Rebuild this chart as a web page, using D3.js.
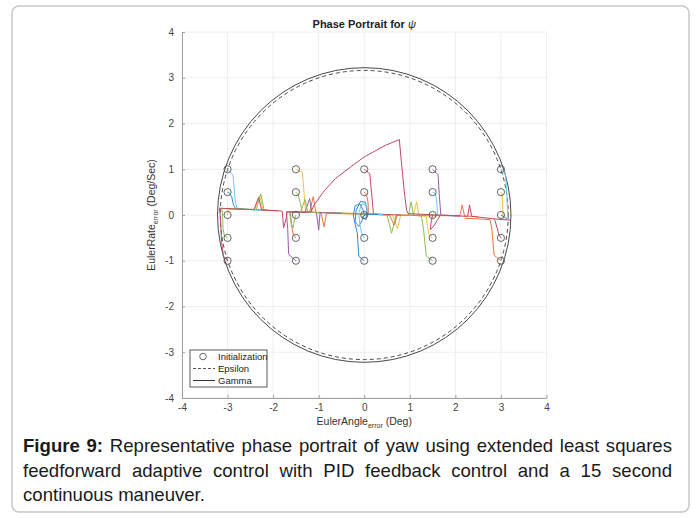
<!DOCTYPE html>
<html lang="en">
<head>
    <meta charset="UTF-8">
    <title>Phase Portrait for psi</title>
    <style>
        body { margin: 0; background: #fff; }
        svg { display: block; }
    </style>
</head>
<body>
    <svg id="svg" width="696" height="518"></svg>

    <script src="https://d3js.org/d3.v7.min.js"></script>
    <script>
        // data
        const xTicks = [-4, -3, -2, -1, 0, 1, 2, 3, 4]
        const yTicks = [-4, -3, -2, -1, 0, 1, 2, 3, 4]
        const initX = [-3, -1.5, 0, 1.5, 3]
        const initY = [-1, -0.5, 0, 0.5, 1]
        const gammaR = 3.22
        const epsilonR = 3.16

        const trajColors = [
            'lightblue', 'blue', 'yellow', 'green',
            'yellow', 'green', 'orange', 'purple', 'green',
            'red', 'orange', 'blue', 'lightblue', 'blue',
            'purple', 'lightblue', 'green', 'yellow', 'red',
            'lightblue', 'yellow', 'blue', 'red', 'orange',
            'red'
        ]
        const trajPoints = [
            [[-3,1],[-2.93,0.93],[-2.88,0.87],[-2.86,0.65],[-2.83,0.3],[-2.79,0.15],[-2.6,0.12],[-2.3,0.11],[-2.15,0.11]],
            [[-3,0.5],[-2.95,0.47],[-2.91,0.4],[-2.87,0.22],[-2.82,0.14],[-2.5,0.12],[-2.3,0.11],[-2.1,0.1]],
            [[-3,0],[-2.99,0.07],[-2.96,0.13],[-2.6,0.12],[-2.4,0.12],[-2.3,0.42],[-2.22,0.11],[-1.9,0.09]],
            [[-3,-0.5],[-3.07,-0.45],[-3.1,-0.3],[-3.11,0.05],[-3.13,0.14],[-2.8,0.13],[-2.37,0.12],[-2.27,0.46],[-2.2,0.11],[-1.9,0.09]],
            [[-1.5,1],[-1.41,0.96],[-1.36,0.93],[-1.33,0.6],[-1.3,0.2],[-1.28,0.07],[-1.1,0.06],[0.5,0.01],[0.62,0],[0.73,-0.3],[0.8,0],[1.08,-0.01],[1.15,0.29],[1.2,-0.02],[1.35,-0.03]],
            [[-1.5,0.5],[-1.45,0.44],[-1.4,0.25],[-1.36,0.07],[0.5,0.01],[0.6,-0.4],[0.7,0],[0.97,-0.01],[1.03,0.29],[1.08,-0.01],[1.25,-0.02]],
            [[-1.5,-0.5],[-1.56,-0.42],[-1.6,-0.2],[-1.62,0.06],[-1.2,0.06],[-1.12,0.4],[-1.06,0.05],[-0.95,0.05],[-0.88,-0.26],[-0.83,0.04],[0.55,0],[0.66,-0.22],[0.72,0],[2.1,-0.02],[2.15,0.22],[2.2,-0.02],[2.5,-0.04]],
            [[-1.5,-1],[-1.62,-0.9],[-1.66,-0.85],[-1.68,-0.3],[-1.71,0.07],[-1.4,0.06],[-1.3,0.06],[-1.2,0.36],[-1.15,0.06],[-1.05,0.05],[-1,-0.33],[-0.97,0.05],[-0.5,0.04]],
            [[-1.5,0],[-1.53,-0.1],[-1.56,-0.28],[-1.6,-0.2],[-1.64,0.06],[-1.4,0.06],[-1.3,0.34],[-1.24,0.06],[-1,0.05]],
            [[0,1],[0.09,0.93],[0.12,0.9],[0.16,0.5],[0.2,0.05],[0.22,0.02],[0.8,0]],
            [[0,0.5],[0.05,0.45],[0.08,0.3],[0.09,0.1],[0.1,0.02],[0.5,0]],
            [[0,0],[-0.05,-0.12],[-0.12,-0.25],[-0.2,-0.15],[-0.18,0.1],[-0.08,0.3],[0.02,0.28],[0.06,0.1],[0.04,-0.1],[-0.05,-0.05],[0.05,0.02],[0.3,0.01]],
            [[0,-0.5],[-0.05,-0.42],[-0.1,-0.2],[-0.12,0.05],[-0.05,0.25],[0.05,0.22],[0.08,0.05],[0.1,0.02],[0.4,0.01]],
            [[0,-1],[-0.12,-0.9],[-0.14,-0.6],[-0.15,-0.4],[-0.2,-0.2],[-0.24,0],[-0.2,0.2],[-0.1,0.25],[-0.02,0.1],[0,0.02],[0.3,0.01]],
            [[1.5,1],[1.58,0.92],[1.62,0.88],[1.65,0.4],[1.68,0],[2.1,-0.02]],
            [[1.5,0.5],[1.56,0.47],[1.59,0.3],[1.61,0],[2,-0.02]],
            [[1.5,-1],[1.4,-0.93],[1.36,-0.88],[1.3,-0.3],[1.25,-0.01]],
            [[1.5,-0.5],[1.42,-0.43],[1.38,-0.2],[1.36,-0.02],[1.6,-0.02]],
            [[1.5,0],[1.47,-0.15],[1.45,-0.32],[1.52,-0.25],[1.6,-0.12],[1.66,-0.02]],
            [[3,1],[3.08,0.95],[3.1,0.9],[3.13,0.4],[3.15,0],[3.16,-0.08]],
            [[3,0.5],[3.03,0.46],[3.04,0.1],[3.05,-0.08]],
            [[3,0],[3.08,-0.05],[3.14,-0.09]],
            [[3,-0.5],[2.95,-0.42],[2.92,-0.3],[2.87,-0.12],[2.85,-0.09]],
            [[3,-1],[2.9,-0.92],[2.85,-0.88],[2.8,-0.3],[2.76,-0.1],[2.2,-0.07]],
            [[-3,-1],[-3.09,-0.9],[-3.13,-0.6],[-3.16,0],[-3.18,0.15],[-2.8,0.13],[-2.42,0.12],[-2.32,0.38],[-2.25,0.11],[-1.85,0.09],[-1.8,0.08],[-1.77,-0.28],[-1.72,-0.1],[-1.69,0.07],[-1.3,0.06],[-1.17,0.07],[-1.1,0.22],[-0.9,0.5],[-0.63,0.8],[-0.3,1.05],[0,1.27],[0.46,1.52],[0.77,1.65],[0.82,1.1],[0.88,0.5],[0.93,0.1],[0.96,0.03],[1.6,0],[2.27,-0.03],[2.31,0.22],[2.36,-0.03],[3,-0.1],[3.2,-0.11]]
        ]

        const palette = {
            blue: '#3588cb', orange: '#e5783f', yellow: '#f1c046', purple: '#9b5aab',
            green: '#8cbd52', lightblue: '#6bcaf0', red: '#bf4a66'
        }

        const captionLines = [
            'Representative phase portrait of yaw using extended least squares',
            'feedforward adaptive control with PID feedback control and a 15 second',
            'continuous maneuver.'
        ]

        // scales
        const xScale = d3.scaleLinear().domain([-4, 4]).range([182, 546.5])
        const yScale = d3.scaleLinear().domain([-4, 4]).range([398, 32])

        const svg = d3.select('#svg')
        const font = 'Liberation Sans, Arial, Helvetica, sans-serif'

        // frame
        svg.append('rect')
            .attr('x', 12).attr('y', 6)
            .attr('width', 677).attr('height', 506)
            .attr('rx', 7)
            .attr('fill', 'none')
            .attr('stroke', '#c8c8c8')
            .attr('stroke-width', 1.5)

        // grid
        const grid = svg.append('g')
        grid.selectAll('.gx').data(xTicks).enter().append('line')
            .attr('x1', d => xScale(d)).attr('x2', d => xScale(d))
            .attr('y1', yScale(-4)).attr('y2', yScale(4))
            .attr('stroke', '#eeeeee')
        grid.selectAll('.gy').data(yTicks).enter().append('line')
            .attr('y1', d => yScale(d)).attr('y2', d => yScale(d))
            .attr('x1', xScale(-4)).attr('x2', xScale(4))
            .attr('stroke', '#eeeeee')

        // axes (ticks inside, like matlab)
        svg.append('g')
            .attr('transform', `translate(0,${yScale(-4)})`)
            .call(d3.axisBottom(xScale).tickValues(xTicks).tickFormat(d => String(d))
                .tickSizeInner(-3).tickSizeOuter(0).tickPadding(6))
        svg.append('g')
            .attr('transform', `translate(${xScale(-4)},0)`)
            .call(d3.axisLeft(yScale).tickValues(yTicks).tickFormat(d => String(d))
                .tickSizeInner(-3).tickSizeOuter(0).tickPadding(8))
        svg.selectAll('.domain').attr('stroke', '#a0a0a0')
        svg.selectAll('.tick line').attr('stroke', '#a0a0a0')
        svg.selectAll('.tick text')
            .style('font-family', font)
            .style('font-size', '10px')
            .attr('fill', '#444')

        // circles
        svg.append('ellipse')
            .attr('cx', xScale(0)).attr('cy', yScale(0))
            .attr('rx', xScale(epsilonR) - xScale(0))
            .attr('ry', yScale(0) - yScale(epsilonR))
            .attr('fill', 'none').attr('stroke', '#333')
            .attr('stroke-width', 0.9).attr('stroke-dasharray', '4,3')
        svg.append('ellipse')
            .attr('cx', xScale(0)).attr('cy', yScale(0))
            .attr('rx', xScale(gammaR) - xScale(0))
            .attr('ry', yScale(0) - yScale(gammaR))
            .attr('fill', 'none').attr('stroke', '#333')
            .attr('stroke-width', 0.9)

        // trajectories
        const line = d3.line().x(d => xScale(d[0])).y(d => yScale(d[1]))
        svg.append('g').selectAll('path')
            .data(trajPoints)
            .enter()
            .append('path')
            .attr('d', d => line(d))
            .attr('fill', 'none')
            .attr('stroke', (d, i) => palette[trajColors[i]])
            .attr('stroke-width', 1)
            .attr('stroke-linejoin', 'round')

        // init markers
        const inits = []
        initX.forEach(x => initY.forEach(y => inits.push([x, y])))
        svg.append('g').selectAll('circle')
            .data(inits)
            .enter()
            .append('circle')
            .attr('cx', d => xScale(d[0]))
            .attr('cy', d => yScale(d[1]))
            .attr('r', 3.6)
            .attr('fill', 'none')
            .attr('stroke', '#555')
            .attr('stroke-width', 0.9)

        // title
        const title = svg.append('text')
            .attr('x', xScale(0)).attr('y', 28)
            .attr('text-anchor', 'middle')
            .style('font-family', font)
            .style('font-size', '11px')
            .attr('fill', '#222')
        title.append('tspan').text('Phase Portrait for ').style('font-weight', 'bold')
        title.append('tspan').text('ψ').style('font-style', 'italic')

        // axis labels
        const xLabel = svg.append('text')
            .attr('x', xScale(0)).attr('y', 425)
            .attr('text-anchor', 'middle')
            .style('font-family', font)
            .style('font-size', '10.5px')
            .attr('fill', '#333')
        xLabel.append('tspan').text('EulerAngle')
        xLabel.append('tspan').text('error').attr('dy', 3).style('font-size', '7px')
        xLabel.append('tspan').text(' (Deg)').attr('dy', -3)

        const yLabel = svg.append('text')
            .attr('transform', `translate(155,${yScale(0)}) rotate(-90)`)
            .attr('text-anchor', 'middle')
            .style('font-family', font)
            .style('font-size', '10.5px')
            .attr('fill', '#333')
        yLabel.append('tspan').text('EulerRate')
        yLabel.append('tspan').text('error').attr('dy', 3).style('font-size', '7px')
        yLabel.append('tspan').text(' (Deg/Sec)').attr('dy', -3)

        // legend
        const lg = svg.append('g').attr('transform', 'translate(190,350)')
        lg.append('rect')
            .attr('width', 77).attr('height', 37)
            .attr('fill', '#fff').attr('stroke', '#333').attr('stroke-width', 0.8)
        lg.append('circle').attr('cx', 13).attr('cy', 6.5).attr('r', 3.3)
            .attr('fill', 'none').attr('stroke', '#555').attr('stroke-width', 0.9)
        lg.append('line').attr('x1', 3).attr('x2', 25).attr('y1', 18.5).attr('y2', 18.5)
            .attr('stroke', '#555').attr('stroke-dasharray', '3,2')
        lg.append('line').attr('x1', 3).attr('x2', 25).attr('y1', 30.5).attr('y2', 30.5)
            .attr('stroke', '#333')
        lg.selectAll('text')
            .data(['Initialization', 'Epsilon', 'Gamma'])
            .enter()
            .append('text')
            .text(d => d)
            .attr('x', 28)
            .attr('y', (d, i) => 9.5 + i * 12)
            .style('font-family', font)
            .style('font-size', '9.5px')
            .attr('fill', '#222')

        // caption, justified word by word
        const capLeft = 23, capRight = 672
        const capTop = 452, capStep = 24.5
        captionLines.forEach((txt, li) => {
            const words = txt.split(' ').map(w => ({ w: w, bold: false }))
            if (li === 0) {
                words.unshift({ w: '9:', bold: true })
                words.unshift({ w: 'Figure', bold: true })
            }
            const nodes = words.map(d => svg.append('text')
                .text(d.w)
                .attr('y', capTop + li * capStep)
                .style('font-family', font)
                .style('font-size', '18.6px')
                .style('font-weight', d.bold ? 'bold' : 'normal')
                .attr('fill', '#1a1a1a'))
            const widths = nodes.map(n => n.node().getComputedTextLength())
            const total = d3.sum(widths)
            const gap = li < captionLines.length - 1
                ? (capRight - capLeft - total) / (words.length - 1)
                : 5.2
            let x = capLeft
            nodes.forEach((n, i) => {
                n.attr('x', x)
                x += widths[i] + gap
            })
        })
    </script>
</body>
</html>
